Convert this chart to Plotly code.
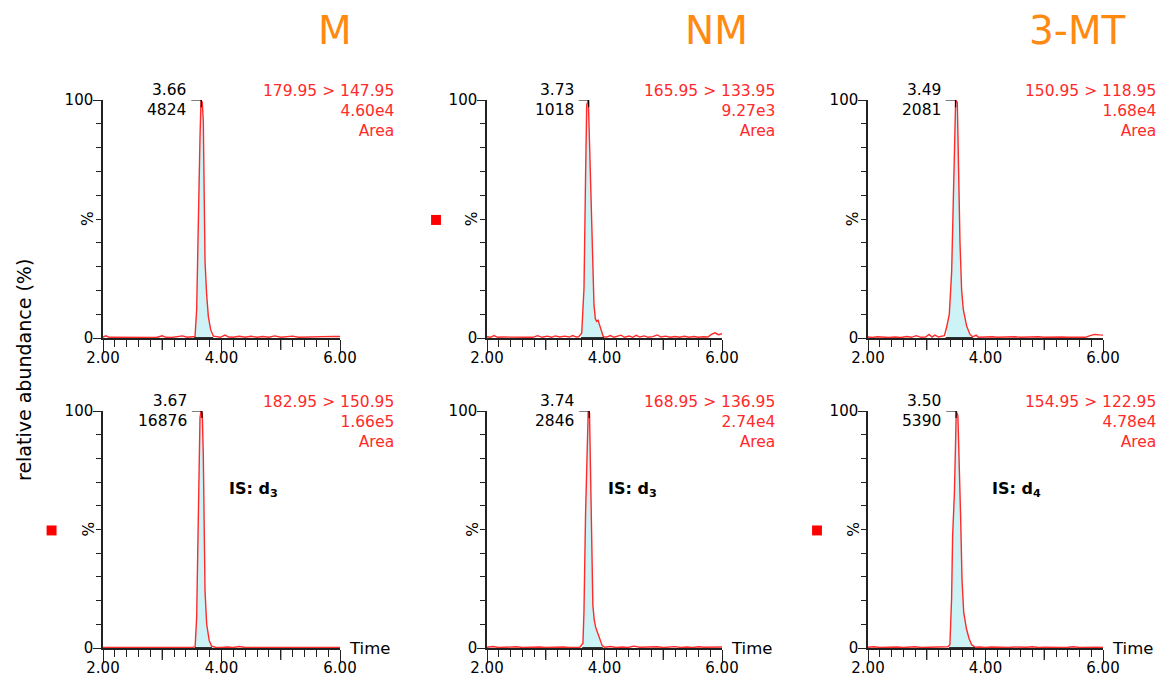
import plotly.graph_objects as go

# ---------------- data ----------------
COMPOUNDS = ["M", "NM", "3-MT"]

M_TOP = [(2.00,0.4),(2.05,0.9),(2.10,0.3),(2.20,0.3),(2.30,0.2),(2.40,0.4),(2.50,0.2),(2.60,0.3),(2.70,0.2),(2.80,0.4),
         (2.90,0.2),(3.00,0.9),(3.06,0.3),(3.16,0.2),(3.26,0.6),(3.34,0.9),(3.42,0.3),(3.50,0.6),
         (3.553,0.6),(3.581,12),(3.592,26),(3.609,63),(3.637,84),(3.654,100),(3.676,99),(3.693,91),(3.705,63),
         (3.722,32),(3.750,18),(3.778,9),(3.817,3.5),(3.862,0.8),
         (3.92,0.6),(3.98,0.3),(4.06,1.2),(4.12,0.4),(4.20,0.3),(4.30,0.7),(4.40,0.3),(4.50,0.7),(4.60,0.3),
         (4.70,0.6),(4.80,0.3),(4.90,0.9),(5.00,0.3),(5.10,0.4),(5.20,0.8),(5.30,0.3),(5.40,0.4),(5.50,0.3),
         (5.60,0.5),(5.70,0.4),(5.80,0.8),(5.90,0.7),(6.00,0.6)]

NM_TOP = [(2.00,0.5),(2.06,0.3),(2.12,1.0),(2.18,0.3),(2.28,0.4),(2.38,0.3),(2.48,0.2),(2.58,0.4),(2.68,0.3),
          (2.78,0.3),(2.86,1.0),(2.94,0.3),(3.02,0.8),(3.10,0.3),(3.16,0.9),(3.24,0.4),(3.32,0.8),(3.40,0.4),
          (3.46,1.0),(3.52,0.4),(3.56,0.5),(3.612,2),(3.651,21),(3.679,70),(3.697,98),(3.725,100),(3.753,73),
          (3.770,52),(3.799,36),(3.821,14),(3.845,8),(3.867,7),(3.890,7.5),(3.912,6),(3.952,3),(3.980,0.5),
          (4.04,0.4),(4.10,1.0),(4.16,0.3),(4.22,0.6),(4.28,1.2),(4.34,0.3),(4.42,0.8),(4.48,0.3),(4.54,1.1),
          (4.60,0.4),(4.68,0.9),(4.74,0.3),(4.82,0.6),(4.90,1.3),(4.96,0.4),(5.04,0.8),(5.12,0.3),(5.20,0.6),
          (5.28,0.3),(5.36,0.7),(5.44,0.3),(5.52,0.6),(5.60,0.3),(5.68,0.5),(5.76,0.4),(5.82,1.5),(5.88,2.2),
          (5.94,1.4),(6.00,1.8)]

MT_TOP = [(2.00,0.4),(2.08,0.2),(2.16,0.5),(2.26,0.3),(2.36,0.2),(2.46,0.4),(2.56,0.2),(2.66,0.6),(2.74,0.3),
          (2.82,1.0),(2.90,0.3),(2.98,0.4),(3.04,1.5),(3.09,0.4),(3.14,1.2),(3.20,0.4),(3.26,0.6),(3.30,1.0),
          (3.339,4.6),(3.384,10),(3.424,28),(3.452,56),(3.469,84),(3.492,100),(3.520,99),(3.537,70),(3.566,40),
          (3.594,20),(3.622,12),(3.679,5),(3.736,1.5),(3.782,0.5),(3.84,1.2),(3.88,0.3),(3.96,0.4),(4.04,0.2),
          (4.12,0.5),(4.20,0.3),(4.30,0.4),(4.40,0.2),(4.50,0.5),(4.60,0.3),(4.70,0.4),(4.80,0.2),(4.90,0.5),
          (5.00,0.3),(5.10,0.4),(5.20,0.2),(5.30,0.4),(5.40,0.3),(5.50,0.2),(5.60,0.4),(5.70,0.3),(5.78,1.0),
          (5.86,1.5),(5.94,1.3),(6.00,1.2)]

M_BOT = [(2.00,0.2),(2.20,0.2),(2.40,0.1),(2.60,0.2),(2.80,0.1),(3.00,0.2),(3.20,0.1),(3.40,0.2),(3.52,0.3),
         (3.555,0.5),(3.581,13),(3.598,39),(3.620,81),(3.637,97),(3.654,100),(3.676,99),(3.693,81),(3.705,46),
         (3.722,24),(3.750,10),(3.794,3),(3.834,0.8),(3.90,0.3),(4.00,0.2),(4.10,0.4),(4.20,0.2),(4.30,0.6),
         (4.40,0.2),(4.60,0.2),(4.80,0.1),(5.00,0.2),(5.20,0.1),(5.40,0.2),(5.60,0.1),(5.80,0.2),(6.00,0.2)]

NM_BOT = [(2.00,0.3),(2.10,0.6),(2.20,0.2),(2.30,0.3),(2.40,0.2),(2.50,0.5),(2.60,0.2),(2.70,0.3),(2.80,0.2),
          (2.90,0.4),(3.00,0.2),(3.10,0.3),(3.20,0.2),(3.30,0.4),(3.40,0.2),(3.50,0.3),(3.58,0.3),(3.633,2),
          (3.650,15),(3.678,57),(3.706,92),(3.723,100),(3.745,99),(3.760,75),(3.774,53),(3.790,30),(3.802,18),
          (3.825,12),(3.847,9),(3.875,7),(3.904,5),(3.935,2.5),(3.961,1),(4.00,0.3),(4.10,0.6),(4.20,0.2),
          (4.30,0.4),(4.40,0.2),(4.50,0.8),(4.60,0.3),(4.70,0.4),(4.80,0.2),(4.90,0.5),(5.00,0.2),(5.10,0.4),
          (5.20,0.6),(5.30,0.2),(5.40,0.4),(5.50,0.2),(5.60,0.5),(5.70,0.3),(5.80,0.4),(5.90,0.3),(6.00,0.4)]

MT_BOT = [(2.00,0.3),(2.10,0.5),(2.20,0.2),(2.30,0.3),(2.40,0.2),(2.50,0.4),(2.60,0.2),(2.70,0.3),(2.80,0.5),
          (2.90,0.2),(3.00,0.3),(3.10,0.2),(3.20,0.4),(3.30,0.5),(3.36,0.5),(3.394,1.4),(3.423,21),(3.440,47),
          (3.470,65),(3.488,84),(3.502,100),(3.530,98),(3.559,75),(3.576,56),(3.600,29),(3.629,15),(3.677,8),
          (3.720,4),(3.764,1.4),(3.823,0.3),(3.90,0.4),(4.00,0.2),(4.10,0.4),(4.20,0.3),(4.30,0.5),(4.40,0.2),
          (4.50,0.4),(4.60,0.2),(4.70,0.3),(4.80,0.5),(4.90,0.2),(5.00,0.3),(5.10,0.2),(5.20,0.4),(5.30,0.2),
          (5.40,0.3),(5.50,0.5),(5.60,0.2),(5.70,0.3),(5.80,0.2),(5.90,0.3),(6.00,0.2)]

TRACES = [M_TOP, NM_TOP, MT_TOP, M_BOT, NM_BOT, MT_BOT]
PEAK_RT = ["3.66", "3.73", "3.49", "3.67", "3.74", "3.50"]
PEAK_HEIGHT = ["4824", "1018", "2081", "16876", "2846", "5390"]
TRANSITIONS = ["179.95 > 147.95", "165.95 > 133.95", "150.95 > 118.95",
               "182.95 > 150.95", "168.95 > 136.95", "154.95 > 122.95"]
AREAS = ["4.60e4", "9.27e3", "1.68e4", "1.66e5", "2.74e4", "4.78e4"]
IS_LABELS = [None, None, None, "IS: d<sub>3</sub>", "IS: d<sub>3</sub>", "IS: d<sub>4</sub>"]
IS_POS = [None, None, None, (4.10, 67), (4.02, 67), (4.08, 67)]
INTEGRATION = [(3.54, 3.86), (3.60, 3.99), (3.32, 3.78), (3.55, 3.84), (3.62, 3.97), (3.38, 3.82)]
MARKED = [False, True, False, True, False, True]
X_TICKS = [2, 4, 6]
X_TICKTEXT = ["2.00", "4.00", "6.00"]
X_LONG_UNLABELLED = [3, 5]
Y_TICKS = [0, 100]
Y_TICKTEXT = ["0", "100"]

# ---------------- layout geometry ----------------
W, H = 1161, 676
COL_PX = [(103, 340), (487, 722), (868, 1103)]
ROW_PX = [(100, 338), (411, 648)]

FONT = "DejaVu Sans, Verdana, sans-serif"
RED = "#ff2a2a"
AXC = "#222222"
ORANGE = "#ff8a12"
TXT = 15.5

fig = go.Figure()
annotations = []
shapes = []
layout = dict(
    width=W, height=H, margin=dict(l=0, r=0, t=0, b=0, autoexpand=False),
    paper_bgcolor="white", plot_bgcolor="white", showlegend=False,
    font=dict(family=FONT, size=15, color="black"),
)

for i in range(6):
    r, c = divmod(i, 3)
    n = i + 1
    xa = "x" if n == 1 else f"x{n}"
    ya = "y" if n == 1 else f"y{n}"
    x0, x1 = COL_PX[c]
    y0, y1 = ROW_PX[r]
    layout["xaxis" if n == 1 else f"xaxis{n}"] = dict(
        domain=[x0 / W, x1 / W], range=[2, 6], anchor=ya, automargin=False,
        showline=True, linecolor=AXC, linewidth=1.5, showgrid=False, zeroline=False,
        ticks="outside", tickvals=X_TICKS, ticktext=X_TICKTEXT, ticklen=12, tickwidth=1.3,
        tickcolor=AXC, tickfont=dict(size=15, color="black", family=FONT), ticklabelstandoff=-7,
        minor=dict(dtick=0.2, tick0=2, ticklen=7, ticks="outside", tickcolor=AXC, tickwidth=1.3),
        fixedrange=True,
    )
    layout["yaxis" if n == 1 else f"yaxis{n}"] = dict(
        domain=[1 - y1 / H, 1 - y0 / H], range=[0, 100], anchor=xa, automargin=False,
        showline=True, linecolor=AXC, linewidth=1.5, showgrid=False, zeroline=False,
        ticks="outside", tickvals=Y_TICKS, ticktext=Y_TICKTEXT, ticklen=8, tickwidth=1.3,
        tickcolor=AXC, tickfont=dict(size=15, color="black", family=FONT), ticklabelstandoff=-3,
        minor=dict(dtick=10, tick0=0, ticklen=5, ticks="outside", tickcolor=AXC, tickwidth=1.3),
        fixedrange=True,
    )
    for xv in X_LONG_UNLABELLED:
        shapes.append(dict(type="line", xref=xa, yref=f"{ya} domain", x0=xv, x1=xv,
                           y0=0, y1=-12 / (y1 - y0), line=dict(color=AXC, width=1.3)))

    data = TRACES[i]
    t = [p[0] for p in data]
    v = [p[1] for p in data]
    a, b = INTEGRATION[i]
    ft = [p[0] for p in data if a <= p[0] <= b]
    fv = [p[1] for p in data if a <= p[0] <= b]

    fig.add_trace(go.Scatter(x=ft, y=fv, xaxis=xa, yaxis=ya, mode="lines", fill="tozeroy",
                             fillcolor="#cdf3f6", line=dict(width=0, color="#cdf3f6"),
                             hoverinfo="skip", cliponaxis=False))
    fig.add_trace(go.Scatter(x=t, y=v, xaxis=xa, yaxis=ya, mode="lines",
                             line=dict(color=RED, width=1.4), cliponaxis=False))
    fig.add_trace(go.Scatter(x=[a, b], y=[0, 0], xaxis=xa, yaxis=ya, mode="lines",
                             line=dict(color="black", width=1.6), cliponaxis=False))

    # peak label with bracket
    rt = float(PEAK_RT[i])
    shapes.append(dict(type="path", xref=xa, yref=ya,
                       path=f"M {rt - 0.17},100 L {rt},100 L {rt},97",
                       line=dict(color="black", width=1.2)))
    annotations.append(dict(xref=xa, yref=ya, x=rt - 0.17, y=100, xanchor="right", yanchor="middle",
                            xshift=-3, text=f"{PEAK_RT[i]}<br>{PEAK_HEIGHT[i]}", showarrow=False,
                            align="right", font=dict(size=TXT, color="black", family=FONT)))
    # red info block
    annotations.append(dict(xref=f"{xa} domain", yref=f"{ya} domain", x=1.236, y=1.085,
                            xanchor="right", yanchor="top", align="right", showarrow=False,
                            text=f"{TRANSITIONS[i]}<br>{AREAS[i]}<br>Area",
                            font=dict(size=TXT, color=RED, family=FONT)))
    # % label
    annotations.append(dict(xref=f"{xa} domain", yref=f"{ya} domain", x=-0.063, y=0.5,
                            xanchor="center", yanchor="middle", textangle=-90, text="%",
                            showarrow=False, font=dict(size=TXT, color="black", family=FONT)))
    if r == 1:
        annotations.append(dict(xref=f"{xa} domain", yref=f"{ya} domain", x=1.03, y=0.0,
                                xanchor="left", yanchor="middle", text="Time", showarrow=False,
                                font=dict(size=16.5, color="black", family=FONT)))
    if IS_LABELS[i]:
        px_, py_ = IS_POS[i]
        annotations.append(dict(xref=xa, yref=ya, x=px_, y=py_, xanchor="left", yanchor="middle",
                                text=f"<b>{IS_LABELS[i]}</b>", showarrow=False,
                                font=dict(size=16, color="black", family=FONT)))
    if MARKED[i]:
        shapes.append(dict(type="rect", xref=f"{xa} domain", yref=f"{ya} domain",
                           x0=-0.238, x1=-0.196, y0=0.475, y1=0.517,
                           fillcolor="#ff0000", line=dict(width=0)))

# column titles
TITLE_X = [335, 716, 1077]
for name, cx in zip(COMPOUNDS, TITLE_X):
    annotations.append(dict(xref="paper", yref="paper", x=cx / W, y=1 - 30 / H,
                            xanchor="center", yanchor="middle", text=name, showarrow=False,
                            font=dict(size=39, color=ORANGE, family=FONT)))

annotations.append(dict(xref="paper", yref="paper", x=24 / W, y=1 - 370 / H,
                        xanchor="center", yanchor="middle", textangle=-90,
                        text="relative abundance (%)", showarrow=False,
                        font=dict(size=19, color="black", family=FONT)))

layout["annotations"] = annotations
layout["shapes"] = shapes
fig.update_layout(**layout)
fig.write_html("out.html", config={"displayModeBar": False},
               post_script="document.body.style.margin='0';document.body.style.overflow='hidden';")
